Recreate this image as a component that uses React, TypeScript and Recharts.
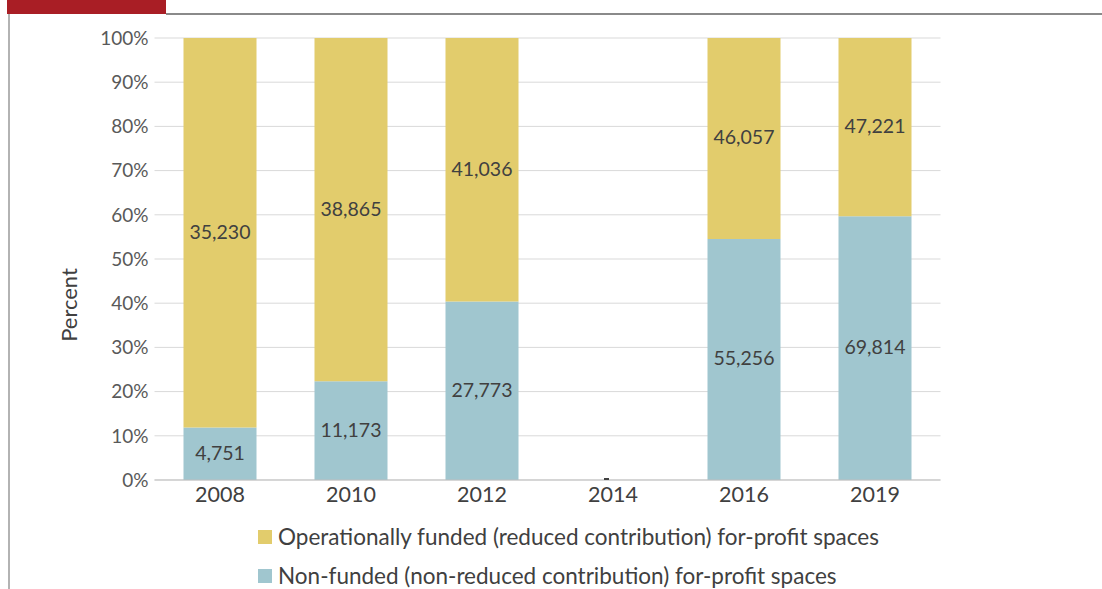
import React from 'react';
import { BarChart, Bar, XAxis, YAxis, CartesianGrid, LabelList, Legend, ReferenceDot } from 'recharts';

const years = ['2008', '2010', '2012', '2014', '2016', '2019'];
const nonFunded = [4751, 11173, 27773, 0, 55256, 69814];
const funded = [35230, 38865, 41036, 0, 46057, 47221];
const yTicks = [0, 0.1, 0.2, 0.3, 0.4, 0.5, 0.6, 0.7, 0.8, 0.9, 1];
const noDataYear = '2014';
const fundedName = 'Operationally funded (reduced contribution) for-profit spaces';
const nonFundedName = 'Non-funded (non-reduced contribution) for-profit spaces';

const data = years.map((y, i) => ({ year: y, nonFunded: nonFunded[i], funded: funded[i] }));

const YELLOW = '#E2CC6C';
const BLUE = '#A0C6CF';
const FONT = 'Lato, "Open Sans", sans-serif';

const fmt = (v: number) => v.toLocaleString('en-US');

const SegLabel = (props: any) => {
  const { x, y, width, height, value } = props;
  if (!value) return null;
  return (
    <text x={x + width / 2} y={y + height / 2} dy={6} textAnchor="middle" fontSize={19.5} fill="#404040" fontFamily={FONT}>
      {fmt(value)}
    </text>
  );
};

const DashShape = (props: any) => {
  const { cx, cy } = props;
  if (cx == null || cy == null) return null;
  return <rect x={cx - 9} y={cy - 2} width={5} height={2} fill="#404040" />;
};

const LegendContent = () => (
  <div style={{ fontFamily: FONT, fontSize: 22.5, color: '#404040' }}>
    {[
      { c: YELLOW, t: fundedName },
      { c: BLUE, t: nonFundedName },
    ].map((it, i) => (
      <div key={i} style={{ display: 'flex', alignItems: 'center', height: 39, whiteSpace: 'nowrap' }}>
        <span style={{ display: 'inline-block', width: 14, height: 14, background: it.c, marginRight: 6 }} />
        <span>{it.t}</span>
      </div>
    ))}
  </div>
);

export default function App() {
  return (
    <div style={{ position: 'absolute', left: 0, top: 0, width: 1102, height: 589, overflow: 'hidden', background: '#fff' }}>
      <div style={{ position: 'absolute', left: 7, top: 0, width: 159, height: 14, background: '#A91E25' }} />
      <div style={{ position: 'absolute', left: 166, top: 13, width: 940, height: 2, background: '#8a8a8a' }} />
      <div style={{ position: 'absolute', left: 8, top: 14, width: 2, height: 600, background: '#b3b3b3' }} />
      <div
        style={{
          position: 'absolute',
          left: 68,
          top: 305,
          transform: 'translate(-50%, -50%) rotate(-90deg)',
          fontFamily: FONT,
          fontSize: 22,
          color: '#404040',
          whiteSpace: 'nowrap',
        }}
      >
        Percent
      </div>
      <BarChart
        width={1102}
        height={589}
        data={data}
        stackOffset="expand"
        margin={{ top: 38, right: 161.5, bottom: 1, left: 0 }}
        style={{ position: 'absolute', left: 0, top: 0 }}
      >
        <CartesianGrid vertical={false} stroke="#d9d9d9" />
        <XAxis
          dataKey="year"
          height={30}
          tickLine={false}
          axisLine={{ stroke: '#bfbfbf' }}
          tick={{ fontSize: 21.5, fill: '#404040', fontFamily: FONT }}
          tickMargin={1}
        />
        <YAxis
          width={154.5}
          ticks={yTicks}
          domain={[0, 1]}
          tickFormatter={(v: number) => `${Math.round(v * 100)}%`}
          axisLine={false}
          tickLine={false}
          tick={{ fontSize: 19, fill: '#595959', fontFamily: FONT }}
          tickMargin={0}
        />
        <Legend
          verticalAlign="bottom"
          align="left"
          content={LegendContent}
          wrapperStyle={{ left: 258, top: 517, width: 800, height: 78 }}
        />
        <Bar dataKey="nonFunded" name={nonFundedName} stackId="a" fill={BLUE} barSize={73} isAnimationActive={false}>
          <LabelList dataKey="nonFunded" content={(p: any) => <SegLabel {...p} />} />
        </Bar>
        <Bar dataKey="funded" name={fundedName} stackId="a" fill={YELLOW} barSize={73} isAnimationActive={false}>
          <LabelList dataKey="funded" content={(p: any) => <SegLabel {...p} />} />
        </Bar>
        <ReferenceDot x={noDataYear} y={0} r={3} shape={DashShape} ifOverflow="visible" />
      </BarChart>
    </div>
  );
}
